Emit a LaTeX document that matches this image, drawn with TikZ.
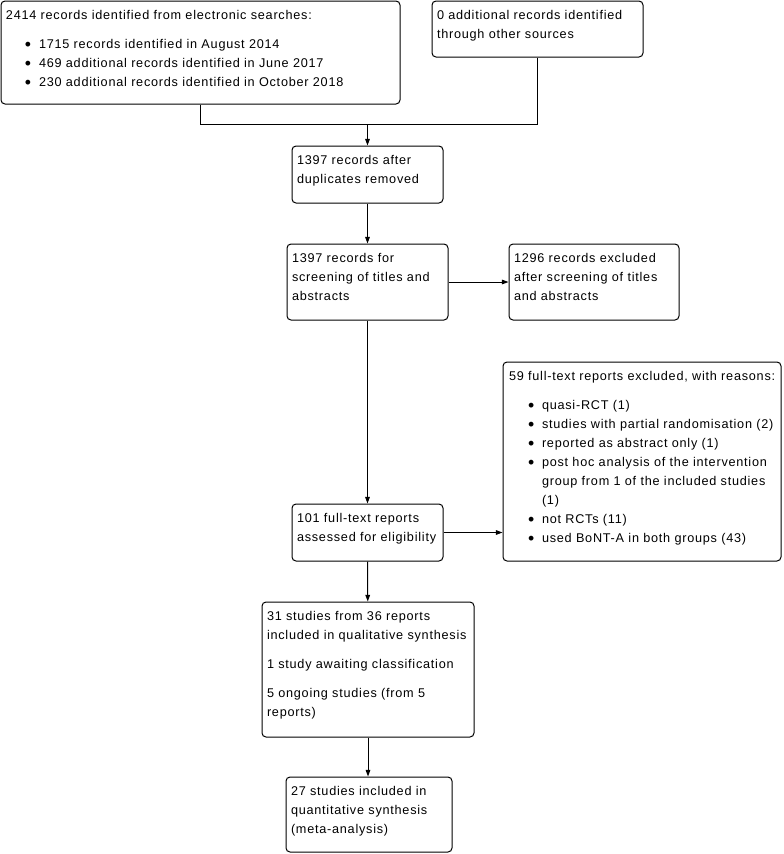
\documentclass[tikz,border=0pt]{standalone}
\usepackage{fontspec}
\setmainfont{Liberation Sans}[LetterSpace=6]
\usetikzlibrary{arrows.meta, positioning, calc}

% bullet item and continuation line
\newcommand{\itm}{\hspace*{14.25pt}\makebox[10.5pt][l]{\raisebox{-1.5pt}{\scalebox{1.4}{\textbullet}}}}
\newcommand{\cnt}{\hspace*{24.75pt}}

\begin{document}
\begin{tikzpicture}[
  x=0.75pt, y=-0.75pt,
  box/.style={draw, rounded corners=3pt, line width=0.75pt, inner sep=0pt},
  txt/.style={anchor=north west, inner sep=0pt, align=left,
    font=\fontsize{9.5}{14.25}\selectfont},
  arr/.style={-{Triangle[length=5pt, width=3.5pt]}},
  line width=0.75pt
]
  \useasboundingbox (0,0) rectangle (784,854);

  % identification
  \node[box, minimum width=299.25pt, minimum height=77.25pt] (srch) at (200.5,52.5) {};
  \node[txt] at ([shift={(5,5.6)}]srch.north west)
    {\strut 2414 records identified from electronic searches:\\[7.5pt]
     \itm 1715 records identified in August 2014\\
     \itm 469 additional records identified in June 2017\\
     \itm 230 additional records identified in October 2018};

  \node[box, minimum width=158.25pt, minimum height=42pt] (other) at (537.5,29) {};
  \node[txt] at ([shift={(5,5.6)}]other.north west)
    {\strut 0 additional records identified\\ through other sources};

  % screening
  \node[box, minimum width=113.25pt, minimum height=42.75pt] (dedup) at (367.5,174.5) {};
  \node[txt] at ([shift={(5,5.6)}]dedup.north west)
    {\strut 1397 records after\\ duplicates removed};

  \node[box, minimum width=120.75pt, minimum height=57pt] (screen) at (367.5,282) {};
  \node[txt] at ([shift={(5,5.6)}]screen.north west)
    {\strut 1397 records for\\ screening of titles and\\ abstracts};

  \node[box, minimum width=127.5pt, minimum height=57pt] (excl) at (594,282) {};
  \node[txt] at ([shift={(5,5.6)}]excl.north west)
    {\strut 1296 records excluded\\ after screening of titles\\ and abstracts};

  % eligibility
  \node[box, minimum width=208.5pt, minimum height=149.25pt] (ftexcl) at (642,461.5) {};
  \node[txt] at ([shift={(6,5.6)}]ftexcl.north west)
    {\strut 59 full-text reports excluded, with reasons:\\[7.5pt]
     \itm quasi-RCT (1)\\
     \itm studies with partial randomisation (2)\\
     \itm reported as abstract only (1)\\
     \itm post hoc analysis of the intervention\\
     \cnt group from 1 of the included studies\\
     \cnt (1)\\
     \itm not RCTs (11)\\
     \itm used BoNT-A in both groups (43)};

  \node[box, minimum width=113.25pt, minimum height=42.75pt] (elig) at (367.5,532.5) {};
  \node[txt] at ([shift={(5,5.6)}]elig.north west)
    {\strut 101 full-text reports\\ assessed for eligibility};

  % included
  \node[box, minimum width=159pt, minimum height=101.25pt] (qual) at (368,669.5) {};
  \node[txt] at ([shift={(5,5.6)}]qual.north west)
    {\strut 31 studies from 36 reports\\ included in qualitative synthesis\\[7.5pt]
     1 study awaiting classification\\[7.5pt]
     5 ongoing studies (from 5\\ reports)};

  \node[box, minimum width=124.5pt, minimum height=56.25pt] (quant) at (369,814.5) {};
  \node[txt] at ([shift={(5,5.6)}]quant.north west)
    {\strut 27 studies included in\\ quantitative synthesis\\ (meta-analysis)};

  % connectors
  \coordinate (join) at ([yshift=15.75pt]dedup.north);
  \draw (srch.south) |- (join) -| (other.south);
  \draw[arr] (join) -- (dedup.north);
  \draw[arr] (dedup) -- (screen);
  \draw[arr] (screen) -- (excl);
  \draw[arr] (screen) -- (elig);
  \draw[arr] (elig.east) -- (elig.east -| ftexcl.west);
  \draw[arr] (elig) -- (qual);
  \draw[arr] (qual.south) -- (qual.south |- quant.north);
\end{tikzpicture}
\end{document}
